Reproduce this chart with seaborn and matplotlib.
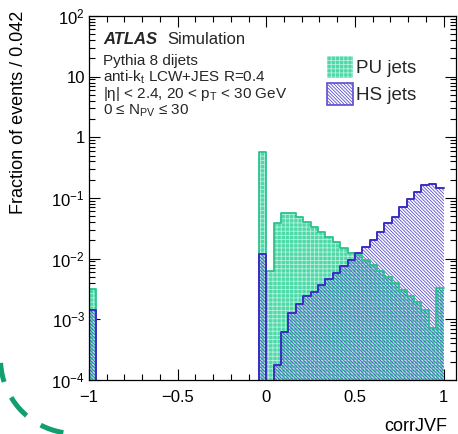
import numpy as np
import pandas as pd
import matplotlib
matplotlib.use("Agg")
import matplotlib.pyplot as plt
import seaborn as sns
from matplotlib.patches import Patch, Arc
from matplotlib.ticker import FixedLocator, FixedFormatter, MultipleLocator, LogLocator, NullFormatter

# 48 bins of width 2/48 (~0.042) between -1 and 1
bin_edges = list(np.linspace(-1, 1, 49))

pu_frac = [3.2e-3] + [0] * 22 + [
    0.57, 6.2e-3, 0.0385, 0.0575, 0.056, 0.0483, 0.0409, 0.033, 0.0279, 0.0231,
    0.0191, 0.0149, 0.0123, 0.0116, 0.0096, 0.0078, 0.0062, 0.0049, 0.0039, 0.0031,
    0.0024, 0.0019, 0.0014, 7.3e-4, 3.3e-3]

hs_frac = [1.4e-3] + [0] * 22 + [
    0.0119, 0, 1.8e-4, 6.1e-4, 1.25e-3, 1.82e-3, 2.38e-3, 2.87e-3, 3.7e-3, 4.65e-3,
    5.9e-3, 7.6e-3, 9.45e-3, 0.0126, 0.0158, 0.0204, 0.028, 0.0384, 0.049, 0.070,
    0.095, 0.127, 0.164, 0.171, 0.145]

xtick_values = [-1, -0.5, 0, 0.5, 1]
xtick_labels = ["\u22121", "\u22120.5", "0", "0.5", "1"]
ytick_values = [1e-4, 1e-3, 1e-2, 1e-1, 1, 10, 100]
ytick_labels = [r"$\mathregular{10^{-4}}$", r"$\mathregular{10^{-3}}$",
                r"$\mathregular{10^{-2}}$", r"$\mathregular{10^{-1}}$",
                "1", "10", r"$\mathregular{10^{2}}$"]

info_lines = ["Pythia 8 dijets",
              r"anti-$\mathregular{k_t}$ LCW+JES R=0.4",
              "|\u03b7| < 2.4, 20 < $\\mathregular{p_T}$ < 30 GeV",
              "0 \u2264 $\\mathregular{N_{PV}}$ \u2264 30"]

sns.set_theme(style="ticks")
plt.rcParams["font.family"] = ["Liberation Sans", "DejaVu Sans"]
plt.rcParams["hatch.linewidth"] = 0.6

pu_face = "#4fd9a8"
pu_grid = "#b5f1dc"
pu_line = "#2dc18e"
hs_line = "#3b2dc2"
hs_lines = "#5b4fd2"
hs_hatch = "\\" * 10

centers = [(a + b) / 2 for a, b in zip(bin_edges[:-1], bin_edges[1:])]
pu = pd.DataFrame({"corrJVF": centers, "frac": pu_frac})
hs = pd.DataFrame({"corrJVF": centers, "frac": hs_frac})

W, H = 458, 434
fig = plt.figure(figsize=(W / 100, H / 100), dpi=100)
ax = fig.add_axes([89 / W, 1 - 380 / H, 367 / W, 364 / H])
ax.set_yscale("log")

# PU jets: mint fill with a fine light grid, green outline
sns.histplot(data=pu, x="corrJVF", weights="frac", bins=bin_edges, element="step",
             fill=True, color=pu_face, facecolor=pu_face, edgecolor=pu_grid,
             hatch="++++", linewidth=0, ax=ax)
sns.histplot(data=pu, x="corrJVF", weights="frac", bins=bin_edges, element="step",
             fill=False, color=pu_line, linewidth=1.3, ax=ax)
# HS jets: thin diagonal hatching with a darker outline
sns.histplot(data=hs, x="corrJVF", weights="frac", bins=bin_edges, element="step",
             fill=True, color=hs_lines, facecolor="none", edgecolor=hs_lines,
             hatch=hs_hatch, linewidth=0, ax=ax)
sns.histplot(data=hs, x="corrJVF", weights="frac", bins=bin_edges, element="step",
             fill=False, color=hs_line, linewidth=1.4, ax=ax)

ax.set_xlim(-1, 1.07)
ax.set_ylim(1e-4, 1e2)

ax.xaxis.set_major_locator(FixedLocator(xtick_values))
ax.xaxis.set_major_formatter(FixedFormatter(xtick_labels))
ax.xaxis.set_minor_locator(MultipleLocator(0.1))
ax.yaxis.set_major_locator(FixedLocator(ytick_values))
ax.yaxis.set_major_formatter(FixedFormatter(ytick_labels))
ax.yaxis.set_minor_locator(LogLocator(base=10, subs=np.arange(2, 10)))
ax.yaxis.set_minor_formatter(NullFormatter())

ax.tick_params(which="both", direction="in", top=True, right=True, colors="black",
               labelsize=12, width=0.8)
ax.tick_params(which="major", length=8)
ax.tick_params(which="minor", length=4)
ax.tick_params(axis="x", pad=7)
ax.tick_params(axis="y", pad=3)
for s in ax.spines.values():
    s.set_color("black")
    s.set_linewidth(0.9)

ax.set_ylabel("Fraction of events / 0.042", fontsize=13, loc="top", color="black")
ax.yaxis.set_label_coords(-0.17, 1.015)
ax.set_xlabel("corrJVF", fontsize=13, loc="right", color="black")
ax.xaxis.set_label_coords(0.975, -0.105)

# ATLAS label and selection text
fig.text(103 / W, 1 - 43.5 / H, "ATLAS", fontsize=12, fontweight="bold",
         fontstyle="italic", va="baseline")
fig.text(167 / W, 1 - 43.5 / H, "Simulation", fontsize=12, va="baseline")
for i, line in enumerate(info_lines):
    fig.text(103 / W, 1 - (64.5 + 16.7 * i) / H, line, fontsize=11, va="baseline")

handles = [Patch(facecolor=pu_face, edgecolor=pu_grid, hatch="++++", linewidth=0),
           Patch(facecolor="white", edgecolor=hs_lines, hatch=hs_hatch, linewidth=1.2)]
fig.legend(handles, ["PU jets", "HS jets"], loc="upper left",
           bbox_to_anchor=(327 / W, 1 - 56 / H), frameon=False, fontsize=13.5,
           handlelength=1.4, handleheight=1.4, handletextpad=0.15,
           labelspacing=0.3, borderpad=0, borderaxespad=0)

# dashed green arc in the lower left corner
over = fig.add_axes([0, 0, 1, 1], zorder=-1)
over.set_xlim(0, W)
over.set_ylim(H, 0)
over.axis("off")
over.add_patch(Arc((75, 359), 149, 149, theta1=99, theta2=177, color="#119e70",
                   linewidth=3.6, linestyle=(0, (4.8, 3.4))))

fig.savefig("out.png", dpi=100)
